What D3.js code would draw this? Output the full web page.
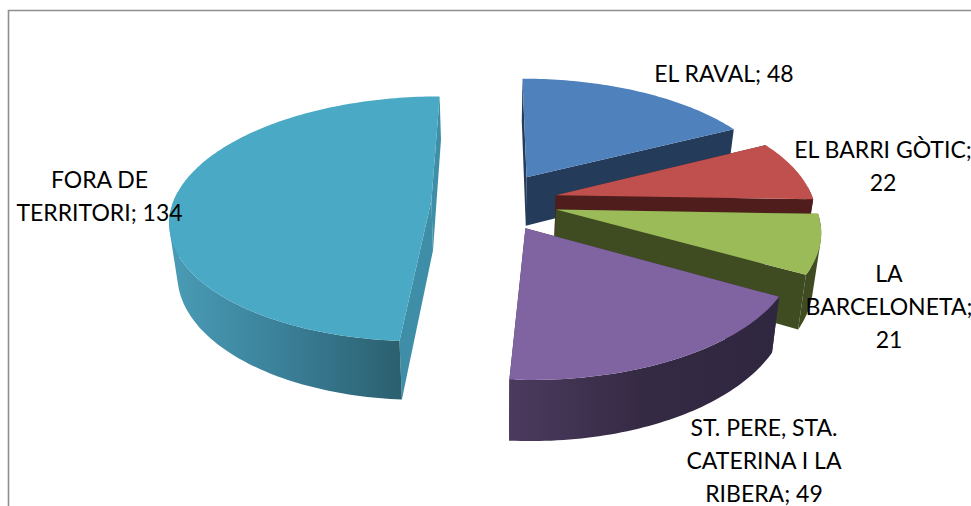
<!DOCTYPE html>
<html>
<head>
<meta charset="utf-8">
<script src="https://cdn.jsdelivr.net/npm/d3@7/dist/d3.min.js"></script>
<style>
  html, body { margin: 0; background: #fff; }
  svg { display: block; }
</style>
</head>
<body>
<div id="chart"></div>
<script>
const categories = ["EL RAVAL", "EL BARRI GÒTIC", "LA BARCELONETA", "ST. PERE, STA. CATERINA I LA RIBERA", "FORA DE TERRITORI"];
const values = [48, 22, 21, 49, 134];
const labelLines = [
  ["EL RAVAL; 48"],
  ["EL BARRI GÒTIC;", "22"],
  ["LA", "BARCELONETA;", "21"],
  ["ST. PERE, STA.", "CATERINA I LA", "RIBERA; 49"],
  ["FORA DE", "TERRITORI; 134"]
];

const topColors = ["#4f81bd", "#c0504d", "#9bbb59", "#8064a2", "#4aa9c4"];
const wallColors = ["#243b5a", "#4f1d1c", "#3f4c22", "#33293f", "#3e8ea8"];
const rimColors = [
  ["#243b5a", "#243b5a", "#243b5a"],
  ["#4f1d1c", "#4f1d1c", "#4f1d1c"],
  ["#3f4c22", "#3f4c22", "#3f4c22"],
  ["#4b3a5e", "#352a44", "#2f2640"],
  ["#4a9cb6", "#3a7f98", "#2b6070"]
];
// label centre x, first line centre y
const labelPos = [[724, 74], [883, 150], [889, 274], [764, 428], [99.5, 180]];

const width = 971;
const height = 506;
const cx = 494.5, cy = 201.5;
const rx = 258, ry = 120;
const explode = 0.245;
const persp = 0.15;
const thick = 50;
const shrink = 0.0005; // the underside is a little further from the camera

const x = d3.scaleLinear().domain([-1, 1]).range([-rx, rx]);
const y = d3.scaleLinear().domain([-1, 1]).range([ry, -ry]);

// plane point -> screen, z is how far below the top face
function project(px, py, z) {
  const s = 1 / (1 + persp * py);
  return [cx + x(px) * s * (1 - shrink * z), cy + (y(py) + z) * s];
}

const svg = d3.select("#chart").append("svg")
  .attr("width", width)
  .attr("height", height);

const defs = svg.append("defs");

// frame of the chart, cut off on the right and bottom
svg.append("path")
  .attr("d", `M8.5,${height}V10.5H${width}`)
  .attr("fill", "none")
  .attr("stroke", "#8e8e8e")
  .attr("stroke-width", 1.6);

const pie = d3.pie().sort(null).value(d => d);
const arcs = pie(values);
const line = d3.line();

arcs.forEach((a, i) => {
  const mid = (a.startAngle + a.endAngle) / 2;
  const ox = explode * Math.sin(mid);
  const oy = explode * Math.cos(mid);
  const n = Math.ceil((a.endAngle - a.startAngle) / 0.02);
  const angles = d3.range(n + 1).map(k => a.startAngle + (a.endAngle - a.startAngle) * k / n);
  const rimPlane = angles.map(t => [ox + Math.sin(t), oy + Math.cos(t)]);
  const first = rimPlane[0];
  const last = rimPlane[rimPlane.length - 1];

  const rimTop = rimPlane.map(p => project(p[0], p[1], 0));
  // only the part of the rim that faces the viewer gets a side face
  const frontPlane = angles
    .map((t, k) => ({ t, p: rimPlane[k] }))
    .filter(d => Math.cos(d.t) < 0.08)
    .map(d => d.p);

  const g = svg.append("g").attr("class", "slice");

  const wall = p => line([
    project(ox, oy, 0), project(p[0], p[1], 0),
    project(p[0], p[1], thick), project(ox, oy, thick)
  ]) + "Z";

  const faces = [
    { depth: (oy + first[1]) / 2, d: wall(first), fill: wallColors[i] },
    { depth: (oy + last[1]) / 2, d: wall(last), fill: wallColors[i] }
  ];

  if (frontPlane.length > 1) {
    const frontTop = frontPlane.map(p => project(p[0], p[1], 0));
    const frontBottom = frontPlane.map(p => project(p[0], p[1], thick));
    const xr = d3.extent(frontTop, p => p[0]);
    const grad = defs.append("linearGradient")
      .attr("id", "rim" + i)
      .attr("gradientUnits", "userSpaceOnUse")
      .attr("x1", xr[0]).attr("x2", xr[1])
      .attr("y1", 0).attr("y2", 0);
    rimColors[i].forEach((c, k) => {
      grad.append("stop").attr("offset", k / 2).attr("stop-color", c);
    });
    // one path of small quads, all wound the same way, so the silhouette
    // at the far left is the real sweep of the top edge
    const quads = d3.range(frontTop.length - 1).map(k => {
      const q = [frontTop[k], frontTop[k + 1], frontBottom[k + 1], frontBottom[k]];
      return line(d3.polygonArea(q) < 0 ? q.reverse() : q) + "Z";
    });
    faces.push({
      depth: d3.mean(frontPlane, p => p[1]),
      d: quads.join(""),
      fill: `url(#rim${i})`
    });
  }

  // side faces, far ones painted first
  faces.sort((p, q) => d3.descending(p.depth, q.depth));

  g.selectAll("path.side").data(faces).join("path")
    .attr("class", "side")
    .attr("d", d => d.d)
    .attr("fill", d => d.fill);

  g.append("path")
    .attr("d", line([project(ox, oy, 0)].concat(rimTop)) + "Z")
    .attr("fill", topColors[i]);
});

// labels sit on top of every slice
categories.forEach((c, i) => {
  const t = svg.append("text")
    .attr("font-family", "Lato, 'Open Sans', sans-serif")
    .attr("font-size", 23)
    .attr("fill", "#000")
    .attr("text-anchor", "middle");
  labelLines[i].forEach((l, k) => {
    t.append("tspan")
      .attr("x", labelPos[i][0])
      .attr("y", labelPos[i][1] + k * 32.8)
      .attr("dy", "0.35em")
      .text(l);
  });
});
</script>
</body>
</html>
